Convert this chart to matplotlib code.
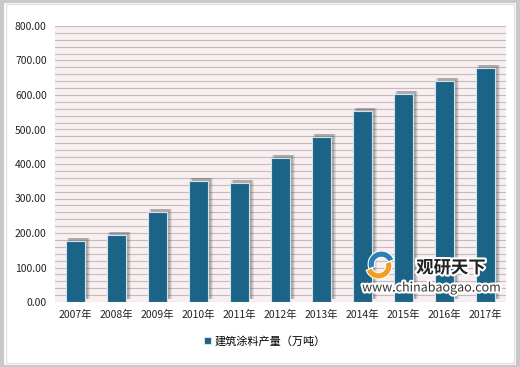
import matplotlib.pyplot as plt
from matplotlib.patches import Rectangle, Wedge
import matplotlib.transforms as mtransforms
import matplotlib.patheffects as pe

plt.rcParams['font.family'] = ['Noto Sans CJK SC', 'DejaVu Sans']

years = ["2007年", "2008年", "2009年", "2010年", "2011年", "2012年",
         "2013年", "2014年", "2015年", "2016年", "2017年"]
output = [178, 193, 262, 351, 346, 416, 479, 554, 603, 640, 679]
yticks = [0, 100, 200, 300, 400, 500, 600, 700, 800]
series_name = "建筑涂料产量（万吨）"

BAR_COLOR = "#1b6487"

fig = plt.figure(figsize=(5.2, 3.67), dpi=100)

# outer frame (behind the axes)
fig.patches.append(Rectangle((0.004, 0.0), 0.992, 0.996, transform=fig.transFigure,
                             facecolor="white", edgecolor="#c8c8c8", linewidth=3, zorder=-2))
fig.patches.append(Rectangle((0.012, 0.012), 0.976, 0.976, transform=fig.transFigure,
                             facecolor="white", edgecolor="#e2e2e2", linewidth=1, zorder=-1))

ax = fig.add_axes([55 / 520, 1 - 302 / 367, 451 / 520, 276 / 367])
ax.set_facecolor("#f9eff0")

x = list(range(len(years)))

# soft shadows (offset up/right)
shadow = mtransforms.offset_copy(ax.transData, fig=fig, x=3, y=3, units="dots")
for k in range(4):
    ax.bar(x, output, width=0.44 + 0.035 * k, color="#444444", alpha=0.12,
           transform=shadow, zorder=2)

ax.bar(x, output, width=0.44, color=BAR_COLOR, edgecolor="#cfe3ee",
       linewidth=0.8, zorder=3, label=series_name)

# fine grid every 20
for v in range(0, 801, 20):
    ax.axhline(v, color="#c2bcbc", linewidth=0.8, zorder=1)

ax.set_xlim(-0.5, len(years) - 0.5)
ax.set_ylim(0, 800)
ax.set_yticks(yticks)
ax.set_yticklabels([f"{v:.2f}" for v in yticks])
ax.set_xticks(x)
ax.set_xticklabels(years)
ax.tick_params(axis="both", length=0, labelsize=7.5, colors="#222222")
ax.tick_params(axis="x", pad=6)
ax.tick_params(axis="y", pad=6)
for s in ax.spines.values():
    s.set_visible(False)

leg = fig.legend(loc="center", bbox_to_anchor=(265 / 520, 1 - 341 / 367), frameon=False,
                 fontsize=8, handlelength=0.6, handleheight=0.6, handletextpad=0.3)

# watermark
halo = [pe.withStroke(linewidth=3, foreground="white")]
fig.text(451 / 520, 1 - 268 / 367, "观研天下", fontsize=12.5, fontweight="bold",
         color="#222222", ha="center", va="center", zorder=5, path_effects=halo)
fig.text(431 / 520, 1 - 288 / 367, "www.chinabaogao.com", fontsize=9,
         color="#333333", ha="center", va="center", zorder=5, path_effects=halo)

logo = fig.add_axes([360 / 520, 1 - 279 / 367, 40 / 520, 28 / 367], zorder=6)
logo.set_xlim(-1.4, 1.4)
logo.set_ylim(-1, 1)
logo.set_aspect("equal")
logo.axis("off")
logo.add_patch(Wedge((0.1, 0.05), 0.95, 20, 200, width=0.45, color="#2a7fb5", ec="white", lw=0.8))
logo.add_patch(Wedge((-0.1, -0.05), 0.95, 200, 380, width=0.45, color="#f0a020", ec="white", lw=0.8))

fig.savefig("out.png", dpi=100)
